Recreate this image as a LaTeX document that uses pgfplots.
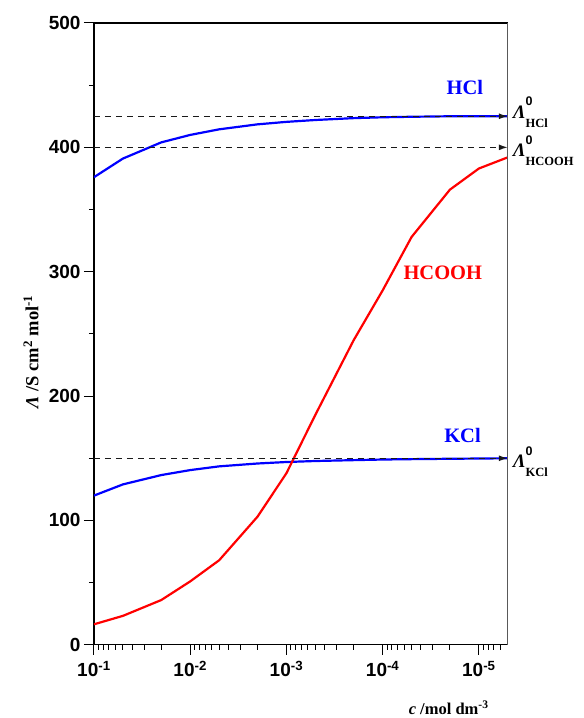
\documentclass[border=0pt]{standalone}
\usepackage{fontspec}
\setmainfont{Liberation Serif}
\setsansfont{Liberation Sans}
\usepackage{pgfplots}
\pgfplotsset{compat=1.18}
\usetikzlibrary{arrows.meta}

\newcommand{\lam}[1]{\fontsize{19}{19}\selectfont\textbf{\textit{Λ}}\rlap{\raisebox{12.5pt}{\fontsize{12.5}{12.5}\selectfont\sffamily\bfseries 0}}\raisebox{-9pt}{\fontsize{12.5}{12.5}\selectfont\bfseries #1}}

\begin{document}
\begin{tikzpicture}
\begin{axis}[
  scale only axis,width=414pt,height=622pt,
  xmode=log,x dir=reverse,xmin=5e-6,xmax=0.1,
  ymin=0,ymax=500,
  ytick={0,100,200,300,400,500},minor ytick={50,150,250,350,450},
  xtick={1e-1,1e-2,1e-3,1e-4,1e-5},
  minor xtick={6e-6,7e-6,8e-6,9e-6,
    2e-5,3e-5,4e-5,5e-5,6e-5,7e-5,8e-5,9e-5,
    2e-4,3e-4,4e-4,5e-4,6e-4,7e-4,8e-4,9e-4,
    2e-3,3e-3,4e-3,5e-3,6e-3,7e-3,8e-3,9e-3,
    2e-2,3e-2,4e-2,5e-2,6e-2,7e-2,8e-2,9e-2},
  xticklabels={10\textsuperscript{-1},10\textsuperscript{-2},10\textsuperscript{-3},10\textsuperscript{-4},10\textsuperscript{-5}},
  tick pos=left,tick align=outside,
  major tick length=10pt,minor tick length=5pt,
  every tick/.style={black,line width=1pt},
  axis line style={black,line width=1.2pt},
  ticklabel style={font=\fontsize{19}{19}\selectfont\sffamily\bfseries},
  xticklabel style={yshift=-3pt},
  /pgf/number format/assume math mode=true,
  xlabel={\textbf{\textit{c} /mol dm\textsuperscript{-3}}},
  xlabel style={font=\fontsize{16.5}{16.5}\selectfont,at={(axis description cs:0.857,-0.101)},anchor=center},
  ylabel={\textbf{\textit{Λ} /S cm\textsuperscript{2} mol\textsuperscript{-1}}},
  ylabel style={font=\fontsize{18.5}{18.5}\selectfont,at={(axis description cs:-0.152,0.471)},anchor=center},
  clip mode=individual]

% HCl
\addplot[blue,line width=2.2pt] coordinates {
  (0.1,376) (0.05,391) (0.02,404) (0.01,410) (0.005,414.5) (0.002,418.5)
  (0.001,420.5) (5e-4,422) (2e-4,423.5) (1e-4,424.2) (5e-5,424.6)
  (2e-5,425) (1e-5,425) (5e-6,425)};
% KCl
\addplot[blue,line width=2.2pt] coordinates {
  (0.1,120) (0.05,129) (0.02,136.5) (0.01,140.5) (0.005,143.5) (0.002,145.8)
  (0.001,147) (5e-4,147.8) (2e-4,148.5) (1e-4,149) (5e-5,149.3)
  (2e-5,149.6) (1e-5,149.8) (5e-6,150)};
% HCOOH
\addplot[red,line width=2.2pt] coordinates {
  (0.1,16.5) (0.05,23.3) (0.02,36) (0.01,51) (0.005,68) (0.002,103)
  (0.001,138) (5e-4,185) (2e-4,245) (1e-4,285) (5e-5,328) (2e-5,366)
  (1e-5,383) (5e-6,392)};

% limiting conductivities
\addplot[black!90,line width=1.5pt,dash pattern=on 6.5pt off 4.5pt,-{Latex[length=9pt,width=6pt]}] coordinates {(0.1,425) (5e-6,425)};
\addplot[black!90,line width=1.5pt,dash pattern=on 6.5pt off 4.5pt,-{Latex[length=9pt,width=6pt]}] coordinates {(0.1,400) (5e-6,400)};
\addplot[black!90,line width=1.5pt,dash pattern=on 6.5pt off 4.5pt,-{Latex[length=9pt,width=6pt]}] coordinates {(0.1,150) (5e-6,150)};

\draw[black!65,line width=1.2pt] (rel axis cs:1,0) -- (rel axis cs:1,1);

\node[text=blue,font=\fontsize{20.5}{20.5}\selectfont\bfseries] at (axis cs:1.4e-5,448) {HCl};
\node[text=red,font=\fontsize{20.5}{20.5}\selectfont\bfseries] at (axis cs:2.37e-5,299) {HCOOH};
\node[text=blue,font=\fontsize{20.5}{20.5}\selectfont\bfseries] at (axis cs:1.48e-5,168) {KCl};

\node[anchor=base west,inner sep=0pt,xshift=5pt] at (axis cs:5e-6,423.6) {\lam{HCl}};
\node[anchor=base west,inner sep=0pt,xshift=5pt] at (axis cs:5e-6,392.3) {\lam{HCOOH}};
\node[anchor=base west,inner sep=0pt,xshift=5pt] at (axis cs:5e-6,142.3) {\lam{KCl}};
\end{axis}
\path (current axis.south west) ++(-94pt,-73pt) rectangle ++(584pt,718pt);
\end{tikzpicture}
\end{document}
